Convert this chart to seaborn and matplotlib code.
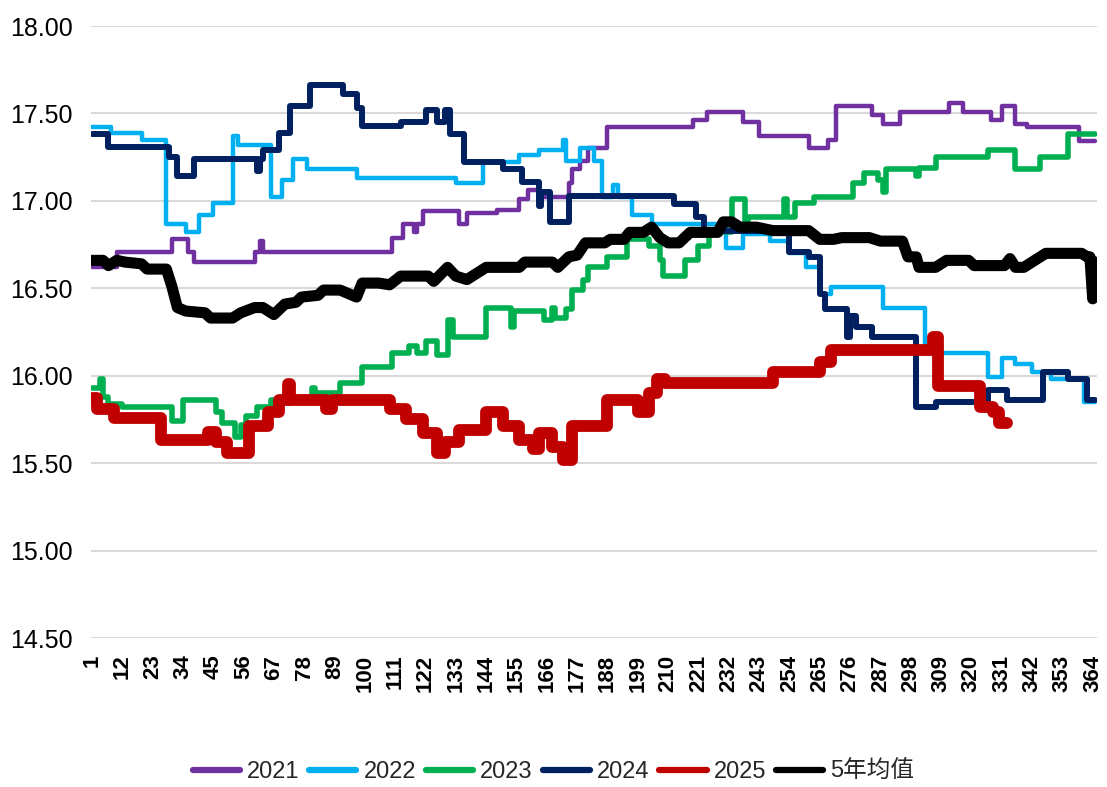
import matplotlib
matplotlib.use("Agg")
import matplotlib.pyplot as plt
import pandas as pd
import seaborn as sns
from matplotlib.lines import Line2D

# ---------------- data (change points of each step series) ----------------
days_2021 = [1, 10, 30, 36, 38, 60, 62, 63, 110, 114, 118, 119, 121, 134, 137, 148, 156, 159, 163,
             174, 175, 178, 181, 188, 219, 224, 237, 243, 261, 268, 271, 284, 288, 294, 312, 317,
             327, 331, 336, 340, 359, 365]
vals_2021 = [16.62, 16.71, 16.78, 16.71, 16.65, 16.71, 16.77, 16.71, 16.79, 16.87, 16.82, 16.87,
             16.94, 16.87, 16.93, 16.95, 17.01, 17.06, 17.02, 17.10, 17.18, 17.23, 17.30, 17.42,
             17.46, 17.51, 17.45, 17.37, 17.30, 17.35, 17.54, 17.49, 17.44, 17.51, 17.56, 17.51,
             17.46, 17.54, 17.44, 17.42, 17.34, 17.34]

days_2022 = [1, 8, 19, 28, 35, 40, 45, 52, 54, 66, 70, 74, 79, 97, 133, 143, 156, 163, 172, 173,
             178, 183, 186, 190, 192, 197, 204, 231, 237, 247, 254, 260, 265, 269, 288, 303, 326,
             331, 336, 342, 349, 361, 365]
vals_2022 = [17.42, 17.39, 17.35, 16.87, 16.82, 16.92, 16.99, 17.37, 17.32, 17.02, 17.12, 17.24,
             17.18, 17.13, 17.10, 17.22, 17.26, 17.29, 17.35, 17.23, 17.30, 17.23, 17.02, 17.09,
             17.02, 16.92, 16.87, 16.73, 16.81, 16.77, 16.70, 16.62, 16.47, 16.51, 16.39, 16.13,
             15.99, 16.10, 16.07, 16.02, 15.98, 15.85, 15.85]

days_2023 = [1, 4, 5, 7, 12, 30, 34, 46, 48, 53, 55, 57, 61, 66, 81, 82, 91, 99, 110, 116, 119,
             122, 126, 130, 132, 144, 153, 154, 165, 168, 169, 173, 175, 179, 181, 188, 195, 203,
             207, 208, 216, 221, 225, 233, 238, 239, 252, 253, 256, 263, 277, 281, 286, 288, 289,
             300, 301, 307, 326, 336, 345, 355, 365]
vals_2023 = [15.93, 15.98, 15.88, 15.84, 15.82, 15.74, 15.86, 15.79, 15.73, 15.65, 15.72, 15.77,
             15.82, 15.86, 15.93, 15.90, 15.96, 16.05, 16.13, 16.17, 16.13, 16.20, 16.12, 16.32,
             16.22, 16.39, 16.28, 16.37, 16.32, 16.39, 16.33, 16.38, 16.49, 16.55, 16.62, 16.68,
             16.78, 16.74, 16.66, 16.57, 16.66, 16.74, 16.82, 17.01, 16.85, 16.91, 17.01, 16.91,
             16.99, 17.02, 17.10, 17.16, 17.12, 17.05, 17.18, 17.14, 17.19, 17.25, 17.29, 17.18,
             17.25, 17.38, 17.38]

days_2024 = [1, 7, 29, 32, 38, 61, 62, 63, 69, 73, 80, 92, 97, 99, 113, 122, 126, 129, 131, 136,
             150, 157, 163, 164, 167, 174, 212, 220, 223, 254, 261, 265, 267, 275, 276, 278, 284,
             300, 307, 326, 333, 346, 355, 362, 365]
vals_2024 = [17.38, 17.31, 17.25, 17.14, 17.24, 17.17, 17.24, 17.29, 17.39, 17.54, 17.66, 17.61,
             17.53, 17.43, 17.45, 17.52, 17.45, 17.52, 17.38, 17.22, 17.18, 17.11, 16.97, 17.05,
             16.88, 17.03, 16.98, 16.91, 16.83, 16.71, 16.68, 16.47, 16.38, 16.22, 16.34, 16.28,
             16.22, 15.82, 15.85, 15.92, 15.86, 16.02, 15.98, 15.86, 15.86]

days_2025 = [1, 3, 9, 26, 43, 46, 50, 58, 65, 69, 72, 73, 86, 88, 109, 115, 121, 126, 129, 134,
             144, 150, 156, 161, 163, 168, 172, 175, 188, 199, 203, 206, 209, 248, 265, 269, 306,
             308, 323, 328, 330, 333]
vals_2025 = [15.87, 15.81, 15.76, 15.63, 15.68, 15.62, 15.56, 15.71, 15.79, 15.86, 15.95, 15.86,
             15.81, 15.86, 15.81, 15.75, 15.67, 15.56, 15.62, 15.69, 15.79, 15.71, 15.63, 15.58,
             15.67, 15.59, 15.52, 15.71, 15.86, 15.79, 15.90, 15.98, 15.96, 16.02, 16.08, 16.15,
             16.22, 15.94, 15.82, 15.79, 15.73, 15.73]

days_avg = [1, 5, 7, 10, 13, 19, 21, 28, 30, 32, 35, 42, 44, 52, 55, 60, 63, 67, 71, 75, 77, 83,
            85, 91, 94, 97, 99, 105, 109, 113, 123, 125, 130, 133, 137, 144, 156, 158, 168, 170,
            174, 177, 180, 187, 189, 194, 196, 201, 204, 207, 210, 214, 218, 228, 230, 233, 236,
            242, 248, 261, 265, 270, 273, 283, 287, 295, 297, 300, 301, 307, 311, 319, 321, 332,
            334, 336, 339, 343, 347, 360, 362, 363, 364, 365]
vals_avg = [16.66, 16.66, 16.63, 16.66, 16.65, 16.64, 16.61, 16.61, 16.51, 16.39, 16.37, 16.36,
            16.33, 16.33, 16.36, 16.39, 16.39, 16.35, 16.41, 16.42, 16.45, 16.46, 16.49, 16.49,
            16.47, 16.45, 16.53, 16.53, 16.52, 16.57, 16.57, 16.54, 16.62, 16.57, 16.55, 16.62,
            16.62, 16.65, 16.65, 16.62, 16.68, 16.69, 16.76, 16.76, 16.78, 16.78, 16.82, 16.82,
            16.85, 16.79, 16.76, 16.76, 16.82, 16.82, 16.88, 16.88, 16.85, 16.85, 16.83, 16.83,
            16.78, 16.78, 16.79, 16.79, 16.77, 16.77, 16.68, 16.68, 16.62, 16.62, 16.66, 16.66,
            16.63, 16.63, 16.67, 16.62, 16.62, 16.66, 16.70, 16.70, 16.68, 16.68, 16.44, 16.65]

series_names = ["2021", "2022", "2023", "2024", "2025", "5年均值"]
y_ticks = [14.5, 15.0, 15.5, 16.0, 16.5, 17.0, 17.5, 18.0]
x_ticks = list(range(1, 366, 11))

# ---------------- styling ----------------
colors = ["#7030A0", "#00B0F0", "#00B050", "#002060", "#C00000", "#000000"]
widths = [3.2, 3.2, 4.0, 4.3, 8.5, 8.0]
steps = [True, True, True, True, True, False]

sns.set_theme(style="white")
plt.rcParams["font.family"] = ["Liberation Sans", "Noto Sans CJK SC", "DejaVu Sans"]

fig = plt.figure(figsize=(11.07, 7.87), dpi=100)
ax = fig.add_axes([0.0818, 0.1893, 0.909, 0.7776])

all_days = [days_2021, days_2022, days_2023, days_2024, days_2025, days_avg]
all_vals = [vals_2021, vals_2022, vals_2023, vals_2024, vals_2025, vals_avg]

for name, d, v, c, w, st in zip(series_names, all_days, all_vals, colors, widths, steps):
    df = pd.DataFrame({"day": d, "value": v})
    sns.lineplot(data=df, x="day", y="value", ax=ax, color=c, linewidth=w,
                 drawstyle="steps-post" if st else "default",
                 estimator=None, sort=False, legend=False, zorder=3)

ax.set_xlim(0.5, 365.5)
ax.set_ylim(14.5, 18.0)
ax.set_xlabel("")
ax.set_ylabel("")
for s in ax.spines.values():
    s.set_visible(False)

ax.set_yticks(y_ticks)
ax.set_yticklabels([f"{t:.2f}" for t in y_ticks], fontsize=18, color="#000000")
ax.set_xticks(x_ticks)
ax.set_xticklabels([str(t) for t in x_ticks], rotation=90, fontsize=16, fontweight="bold",
                   color="#000000")
ax.tick_params(axis="both", length=0)
ax.tick_params(axis="y", pad=13)
ax.tick_params(axis="x", pad=12)
ax.yaxis.grid(True, color="#D9D9D9", linewidth=1.5, zorder=0)
ax.xaxis.grid(False)
ax.set_axisbelow(True)

handles = [Line2D([0], [0], color=c, linewidth=4.5, solid_capstyle="round") for c in colors]
fig.legend(handles, series_names, loc="center", bbox_to_anchor=(0.5, 1 - 772 / 787), ncol=6,
           frameon=False, handlelength=2.0, handletextpad=0.3, columnspacing=0.42,
           prop={"family": ["Liberation Sans", "Noto Sans CJK SC"], "size": 17})

fig.savefig("out.png", dpi=100, facecolor="white")
